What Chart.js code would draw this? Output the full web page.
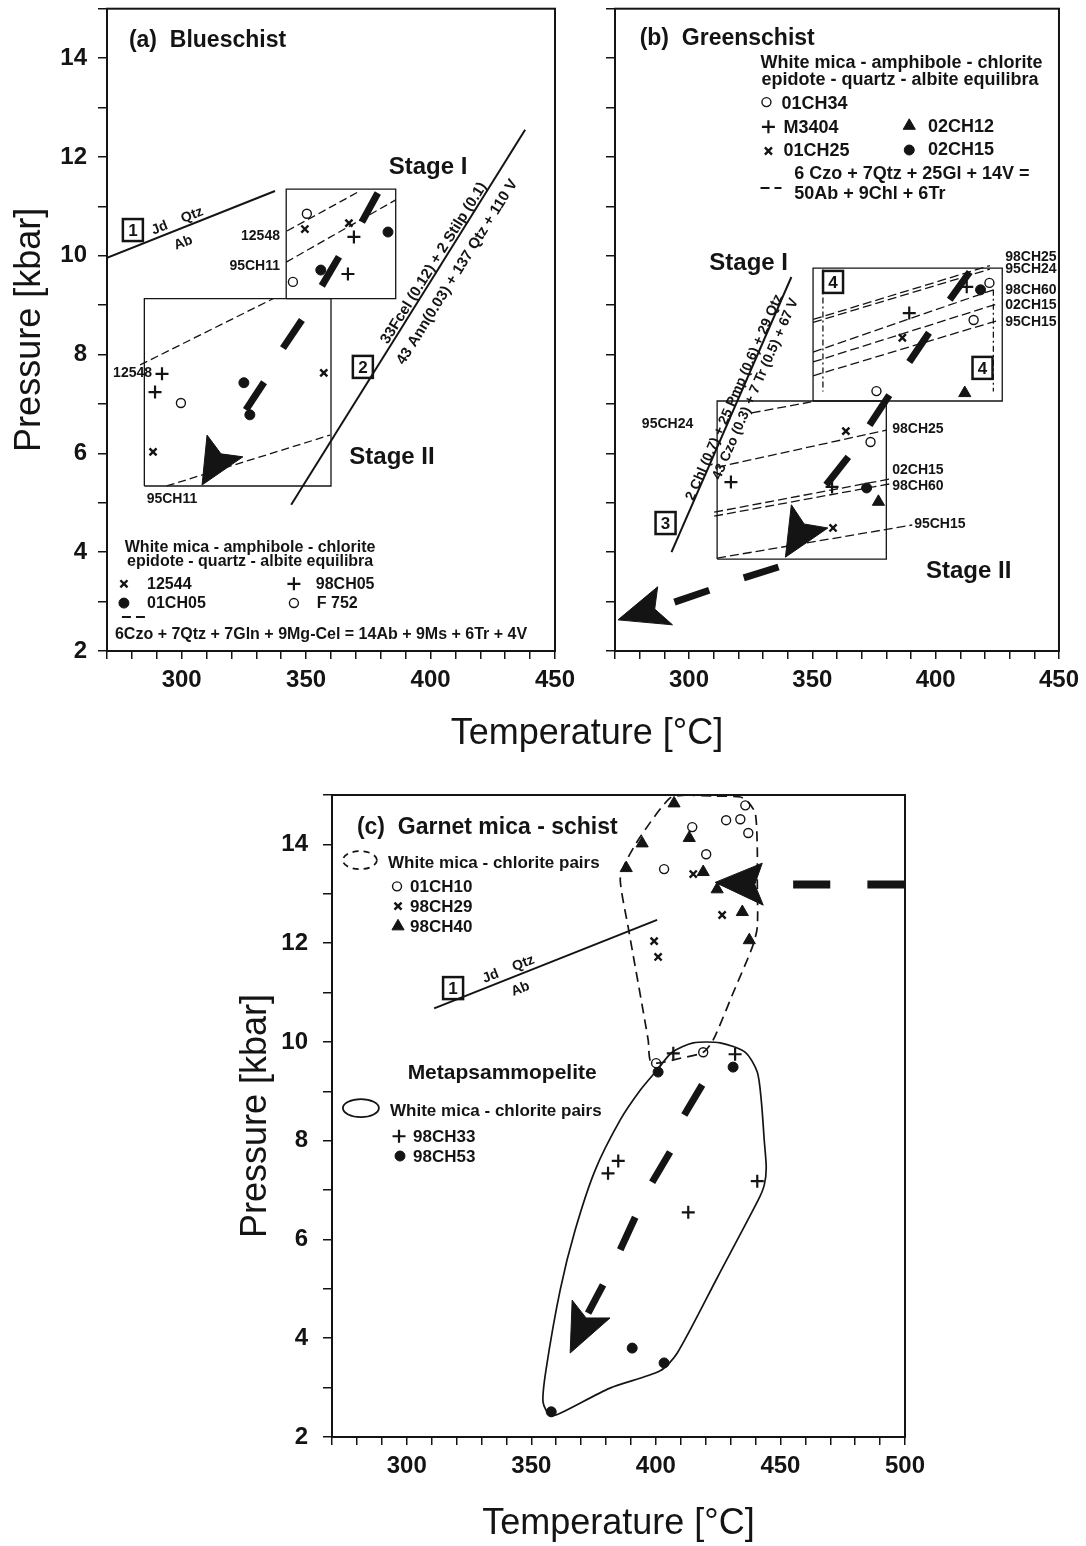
<!DOCTYPE html>
<html>
<head>
<meta charset="utf-8">
<title>P-T paths</title>
<script src="https://cdn.jsdelivr.net/npm/chart.js@4.4.1/dist/chart.umd.min.js"></script>
<style>
  body { margin: 0; background: #fff; width: 1086px; height: 1546px; position: relative; overflow: hidden; }
  canvas { position: absolute; }
  #tempTitle { position: absolute; left: 387px; width: 400px; top: 712px; text-align: center;
               font: 36px 'Liberation Sans', Arial, sans-serif; line-height: 40px; color: #141414; }
</style>
</head>
<body>
<canvas id="chartA" width="590" height="720" style="left:0;top:0"></canvas>
<canvas id="chartB" width="501" height="720" style="left:585px;top:0"></canvas>
<div id="tempTitle">Temperature [°C]</div>
<canvas id="chartC" width="1086" height="786" style="left:0;top:760px"></canvas>
<script>
// ---------- panel (a) blueschist : [T °C, P kbar] ----------
const aJdLine = [[270, 9.96], [337.5, 11.31]];
const aReact2 = [[344, 4.96], [438, 12.55]];
const aBoxUp = [[342, 9.13], [342, 11.35], [386, 11.35], [386, 9.13], [342, 9.13]];
const aBoxLo = [[285, 5.34], [285, 9.13], [360, 9.13], [360, 5.34], [285, 5.34]];
const aIsoUp12548 = [[342.3, 10.5], [371.6, 11.31]];
const aIsoUp95CH11 = [[342, 9.87], [386, 11.13]];
const aIsoLo12548 = [[283.3, 7.79], [336.7, 9.13]];
const aIsoLo95CH11 = [[294, 5.34], [359.6, 6.37]];
const a12544 = [[349.5, 10.54], [367.2, 10.66], [357.1, 7.63], [288.5, 6.03]];
const a98CH05 = [[369.2, 10.38], [366.8, 9.63], [292.1, 7.61], [289.3, 7.24]];
const a01CH05 = [[382.9, 10.48], [355.9, 9.71], [325, 7.43], [327.4, 6.78]];
const aF752 = [[350.3, 10.85], [344.7, 9.47], [299.7, 7.02]];
const aPath = [
  [[372.4, 10.68], [378.8, 11.27]], [[356.3, 9.39], [363.2, 9.98]],
  [[340.7, 8.13], [348.3, 8.70]], [[325.8, 6.88], [333.1, 7.44]]
];
const aHead = [[310.2, 6.37], [315.8, 5.99], [324.6, 5.93], [308.2, 5.36], [310.2, 6.37]];
const aKeyCross = [[276.8, 3.36]], aKeyPlus = [[345.1, 3.36]];
const aKeyDot = [[276.8, 2.97]], aKeyOpen = [[345.1, 2.97]];
const aKeyDash = [[276, 2.69], [285.3, 2.69]];

const aTitle = [['(a)  Blueschist', 278.8, 14.37]];
const aStages = [['Stage I', 399, 11.8], ['Stage II', 384.5, 5.93]];
const aSampRight = [['12548', 339.5, 10.42], ['95CH11', 339.5, 9.81], ['12548', 288.1, 7.65]];
const aSampCenter = [['95CH11', 296.1, 5.10]];
const aJdText = [['Jd    Qtz', 298.1, 10.72], ['Ab', 300.5, 10.28]];
const aBoxNums = [['1', 280.4, 10.52], ['2', 372.8, 7.75]];
const aReactText = [['33Fcel (0.12) + 2 Stilp (0.1)', 401, 9.86], ['43 Ann(0.03) + 137 Qtz + 110 V', 410.4, 9.68]];
const aKeyHead = [['White mica - amphibole - chlorite', 327.5, 4.11], ['epidote - quartz - albite equilibra', 327.5, 3.82]];
const aKeyText = [['12544', 286.1, 3.36], ['98CH05', 353.9, 3.36], ['01CH05', 286.1, 2.97], ['F 752', 354.3, 2.97],
                  ['6Czo + 7Qtz + 7Gln + 9Mg-Cel = 14Ab + 9Ms + 6Tr + 4V', 273.2, 2.36]];

// ---------- panel (b) greenschist ----------
const bReact3 = [[292.9, 4.0], [341.5, 9.57]];
const bBoxUp = [[350.3, 7.06], [350.3, 9.75], [427, 9.75], [427, 7.06], [350.3, 7.06]];
const bBoxLo = [[311.4, 3.86], [311.4, 7.06], [380, 7.06], [380, 3.86], [311.4, 3.86]];
const bDashDotL = [[354.3, 9.72], [354.3, 7.25]];
const bDashDotR = [[423.4, 9.31], [423.4, 7.25]];
const bIsoUp = [
  [[350.3, 8.71], [422, 9.80]], [[350.3, 8.65], [422, 9.73]],
  [[350.3, 8.05], [424.6, 9.33]], [[350.3, 7.85], [424.6, 9.02]], [[350.3, 7.57], [424.6, 8.68]]
];
const bIsoLo = [
  [[325.4, 6.82], [349.5, 7.04]], [[311.4, 5.72], [380, 6.47]],
  [[310.2, 4.81], [381.2, 5.48]], [[310.2, 4.73], [381.2, 5.38]], [[311.4, 3.88], [390.5, 4.55]]
];
const b01CH34 = [[415.4, 8.70], [421.8, 9.45], [376, 7.26], [373.6, 6.23]];
const bM3404 = [[389.3, 8.84], [412.6, 9.37], [317, 5.42], [358, 5.32]];
const b02CH12 = [[411.8, 7.22], [376.8, 5.02]];
const b01CH25 = [[386.5, 8.34], [363.6, 6.45], [358.4, 4.49]];
const b02CH15 = [[418.2, 9.31], [372, 5.30]];
const bPath = [
  [[405.7, 9.11], [413.8, 9.67]], [[389.3, 7.85], [397.3, 8.44]], [[373.2, 6.57], [381.2, 7.18]],
  [[355.6, 5.36], [364.6, 5.93]], [[322.2, 3.48], [336.3, 3.70]], [[294.1, 2.99], [308.2, 3.23]]
];
const bHeadBox = [[341.5, 4.96], [346.7, 4.57], [356.3, 4.49], [339.1, 3.90], [341.5, 4.96]];
const bHeadEnd = [[271.2, 2.63], [287.3, 3.30], [286.1, 2.85], [293.3, 2.53], [271.2, 2.63]];
const bKeyOpen = [[331.4, 13.11]], bKeyPlus = [[332.2, 12.61]], bKeyTri = [[389.3, 12.63]];
const bKeyCross = [[332.2, 12.12]], bKeyDot = [[389.3, 12.14]];
const bKeyDash = [[329, 11.37], [337.5, 11.37]];

const bTitle = [['(b)  Greenschist', 280, 14.41]];
const bStages = [['Stage I', 324.2, 9.87], ['Stage II', 413.4, 3.64]];
const bSampLeft = [['98CH25', 428.2, 10.0], ['95CH24', 428.2, 9.75], ['98CH60', 428.2, 9.33], ['02CH15', 428.2, 9.02],
                   ['95CH15', 428.2, 8.68], ['98CH25', 382.4, 6.51], ['02CH15', 382.4, 5.68], ['98CH60', 382.4, 5.36],
                   ['95CH15', 391.3, 4.59]];
const bSampCenter = [['95CH24', 291.3, 6.62]];
const bBoxNums = [['3', 290.5, 4.59], ['4', 358.4, 9.47], ['4', 419, 7.73]];
const bReactText = [['2 Chl (0.7) + 25 Pmp (0.6) + 29 Qtz', 318, 7.14], ['43 Czo (0.3) + 7 Tr (0.5) + 67 V', 326.6, 7.31]];
const bKeyHead = [['White mica - amphibole - chlorite', 329, 13.92], ['epidote - quartz - albite equilibra', 329.4, 13.58]];
const bKeyText = [['01CH34', 337.5, 13.09], ['M3404', 338.3, 12.61], ['02CH12', 396.9, 12.63], ['01CH25', 338.3, 12.14],
                  ['02CH15', 396.9, 12.16], ['6 Czo + 7Qtz + 25Gl + 14V =', 342.7, 11.68], ['50Ab + 9Chl + 6Tr', 342.7, 11.27]];

// ---------- panel (c) garnet mica-schist / metapsammopelite ----------
const cJdLine = [[311, 10.68], [400.5, 12.47]];
const cPelite = [
  [424.9, 5.25], [408.6, 3.70], [401.7, 3.34], [381.6, 2.99], [362, 2.49], [357.6, 2.43], [354.7, 2.71],
  [355.9, 3.36], [361.6, 4.98], [367.6, 6.19], [375.6, 7.40], [385.7, 8.42], [393.7, 9.02], [400.5, 9.43],
  [406.5, 9.79], [415, 9.98], [425.8, 9.98], [435.9, 9.79], [440.7, 9.39], [442.3, 8.82], [443.5, 8.01],
  [444.3, 7.45], [443.5, 7.10], [441.1, 6.80], [424.9, 5.25]
];
const cSchist = [
  [412.6, 15.0], [405.7, 14.94], [393.7, 14.15], [387.7, 13.62], [385.7, 13.28], [388.9, 12.32], [396.9, 10.04],
  [397.7, 9.63], [400.5, 9.57], [409.8, 9.67], [419, 9.79], [423, 10.04], [431, 10.99], [438.7, 11.92],
  [440.7, 12.32], [440.7, 13.28], [440.7, 13.94], [439.9, 14.63], [437.1, 14.85], [433.9, 14.96], [423, 14.98], [412.6, 15.0]
];
const c01CH10 = [[435.9, 14.79], [428.2, 14.49], [433.9, 14.51], [437.1, 14.23], [414.6, 14.35], [420.2, 13.80],
                 [403.3, 13.50], [400.1, 9.57], [419, 9.79]];
const c98CH29 = [[415, 13.40], [426.6, 12.57], [399.3, 12.04], [400.9, 11.72]];
const c98CH40 = [[407.3, 14.83], [394.5, 14.02], [388.1, 13.52], [413.4, 14.13], [419, 13.44], [424.6, 13.09],
                 [434.7, 12.63], [437.5, 12.06]];
const c98CH33 = [[407, 9.77], [431.8, 9.75], [380.8, 7.34], [384.9, 7.59], [440.7, 7.18], [413, 6.55]];
const c98CH53 = [[400.9, 9.39], [431, 9.49], [390.5, 3.80], [403.3, 3.50], [358, 2.51]];
const cPath = [[[418.6, 9.13], [411.4, 8.52]], [[405.7, 7.77], [398.5, 7.16]], [[391.7, 6.45], [385.7, 5.79]],
               [[378.8, 5.08], [372.8, 4.51]]];
const cHeadLow = [[366.4, 4.77], [372, 4.41], [381.6, 4.41], [365.6, 3.70], [366.4, 4.77]];
const cPathTop = [[[455.1, 13.19], [470, 13.19]], [[484.9, 13.19], [500, 13.19]]];
const cHeadTop = [[423.8, 13.23], [442.7, 13.62], [439.7, 13.19], [443.1, 12.77], [423.8, 13.23]];
const cKeyOpen = [[296.1, 13.15]], cKeyCross = [[296.5, 12.75]], cKeyTri = [[296.5, 12.34]];
const cKeyPlus = [[296.9, 8.09]], cKeyDot = [[297.3, 7.69]];

const cTitle = [['(c)  Garnet mica - schist', 280, 14.35]];
const cPelTitle = [['Metapsammopelite', 338.3, 9.39]];
const cKeyText = [['White mica - chlorite pairs', 292.5, 13.64], ['01CH10', 301.3, 13.15], ['98CH29', 301.3, 12.75],
                  ['98CH40', 301.3, 12.34], ['White mica - chlorite pairs', 293.3, 8.62], ['98CH33', 302.5, 8.09],
                  ['98CH53', 302.5, 7.69]];
const cKeyDashedLoop = [['', 281.2, 13.68]];
const cKeySolidLoop = [['', 281.6, 8.66]];
const cBoxNums = [['1', 318.6, 11.09]];
const cJdText = [['Jd    Qtz', 340.7, 11.49], ['Ab', 345.5, 11.09]];

// ---------- helpers ----------
const FAM = "'Liberation Sans', Arial, Helvetica, sans-serif";
const INK = '#141414';
const font = (size, weight = 'bold') => `${weight} ${size}px ${FAM}`;

const pts = a => a.map(([x, y]) => ({x, y}));
const line = (a, o = {}) => Object.assign({
  data: pts(a), showLine: true, borderColor: INK, borderWidth: 1.3,
  pointRadius: 0, pointHoverRadius: 0, fill: false, tension: 0
}, o);
const dashed = (a, o = {}) => line(a, Object.assign({borderDash: [8, 4]}, o));
const thick = segs => segs.map(s => line(s, {borderWidth: 7}));
const head = a => line(a, {fill: 'shape', backgroundColor: INK, borderWidth: 1});
const MARK = {
  open: {pointStyle: 'circle', pointRadius: 4.5, pointBackgroundColor: '#fff', pointBorderWidth: 1.4},
  dot: {pointStyle: 'circle', pointRadius: 5, pointBackgroundColor: INK, pointBorderWidth: 1},
  plus: {pointStyle: 'cross', pointRadius: 6.5, pointBorderWidth: 2.2},
  cross: {pointStyle: 'crossRot', pointRadius: 5, pointBorderWidth: 2.4},
  tri: {pointStyle: 'triangle', pointRadius: 7, pointBackgroundColor: INK, pointBorderWidth: 1}
};
const marks = (a, kind) => Object.assign({data: pts(a), showLine: false, pointBorderColor: INK, pointHoverRadius: 0}, MARK[kind]);

const framePlugin = {
  id: 'frame',
  afterDraw(chart) {
    const {ctx, chartArea: c} = chart;
    ctx.save();
    ctx.strokeStyle = INK;
    ctx.lineWidth = 2;
    ctx.strokeRect(c.left, c.top, c.right - c.left, c.bottom - c.top);
    ctx.restore();
  }
};

// text annotations placed at data coordinates
function notesPlugin(groups) {
  return {
    id: 'notes',
    afterDatasetsDraw(chart) {
      const {ctx, scales: {x, y}} = chart;
      const px = v => x.getPixelForValue(v), py = v => y.getPixelForValue(v);
      for (const g of groups) {
        let rot = 0;
        if (g.along) {
          const p = g.along[0], q = g.along[g.along.length - 1];
          rot = Math.atan2(py(q[1]) - py(p[1]), px(q[0]) - px(p[0]));
        }
        for (const [txt, tx, ty] of g.items) {
          ctx.save();
          ctx.translate(px(tx), py(ty));
          ctx.rotate(rot);
          ctx.strokeStyle = INK;
          ctx.fillStyle = INK;
          if (g.loop) {
            ctx.lineWidth = 1.8;
            ctx.setLineDash(g.loop.dash || []);
            ctx.beginPath();
            ctx.ellipse(0, 0, g.loop.rx, g.loop.ry, 0, 0, Math.PI * 2);
            ctx.stroke();
          } else {
            ctx.font = g.font;
            ctx.textAlign = g.align || 'left';
            ctx.textBaseline = 'middle';
            ctx.fillText(txt, 0, 1);
            if (g.boxed) {
              ctx.lineWidth = 2.5;
              ctx.strokeRect(-10, -11, 20, 22);
            }
          }
          ctx.restore();
        }
      }
    }
  };
}

function scales(o) {
  const tickFont = {family: FAM, size: 24, weight: 'bold'};
  const titleFont = {family: FAM, size: 36, weight: 'normal', lineHeight: 1.2};
  return {
    x: {
      type: 'linear', min: 270, max: o.xMax,
      afterFit: s => { s.height = o.xH; },
      border: {color: INK, width: 2},
      grid: {drawOnChartArea: false, tickLength: 8, color: INK, lineWidth: 1.5},
      ticks: {stepSize: 10, autoSkip: false, maxRotation: 0, padding: 7, color: INK, font: tickFont,
              callback: v => (v % 50 === 0 ? v : '')},
      title: o.xTitle ? {display: true, text: o.xTitle, color: INK, font: titleFont, padding: {top: 0, bottom: 0}}
                      : {display: false}
    },
    y: {
      type: 'linear', min: 2, max: 15,
      afterFit: s => { s.width = o.yW; s.paddingTop = 0; s.paddingBottom = 0; },
      border: {color: INK, width: 2},
      grid: {drawOnChartArea: false, tickLength: 9, color: INK, lineWidth: 1.5},
      ticks: {display: o.yLabels, stepSize: 1, autoSkip: false, padding: o.yPad || 10, color: INK, font: tickFont,
              callback: v => (v % 2 === 0 ? v : '')},
      title: o.yTitle ? {display: true, text: o.yTitle, color: INK, font: titleFont, padding: {top: o.yTitlePad, bottom: 0}}
                      : {display: false}
    }
  };
}

function build(id, datasets, sc, pad, notes) {
  return new Chart(document.getElementById(id), {
    type: 'scatter',
    data: {datasets},
    options: {
      responsive: false, animation: false, devicePixelRatio: 1,
      layout: {padding: pad},
      plugins: {legend: {display: false}, tooltip: {enabled: false}},
      events: [],
      scales: sc
    },
    plugins: [framePlugin, notesPlugin(notes)]
  });
}

// ---------- panel (a) ----------
build('chartA', [
  line(aJdLine, {borderWidth: 2}),
  line(aReact2, {borderWidth: 2}),
  line(aBoxUp), line(aBoxLo),
  dashed(aIsoUp12548), dashed(aIsoUp95CH11), dashed(aIsoLo12548), dashed(aIsoLo95CH11),
  ...thick(aPath), head(aHead),
  dashed(aKeyDash, {borderWidth: 2, borderDash: [9, 5]}),
  marks(a12544, 'cross'), marks(a98CH05, 'plus'), marks(a01CH05, 'dot'), marks(aF752, 'open'),
  marks(aKeyCross, 'cross'), marks(aKeyPlus, 'plus'), marks(aKeyDot, 'dot'), marks(aKeyOpen, 'open')
], scales({xMax: 450, xH: 69, yW: 107, yLabels: true, yPad: 11, yTitle: 'Pressure [kbar]', yTitlePad: 8}),
{top: 8, right: 35, left: 0, bottom: 0}, [
  {items: aTitle, font: font(23)},
  {items: aStages, font: font(24), align: 'center'},
  {items: aSampRight, font: font(14), align: 'right'},
  {items: aSampCenter, font: font(14), align: 'center'},
  {items: aJdText, font: font(14), align: 'center', along: aJdLine},
  {items: aBoxNums, font: font(17), align: 'center', boxed: true},
  {items: aReactText, font: font(15), align: 'center', along: aReact2},
  {items: aKeyHead, font: font(16), align: 'center'},
  {items: aKeyText, font: font(16)}
]);

// ---------- panel (b) ----------
build('chartB', [
  line(bReact3, {borderWidth: 2}),
  line(bBoxUp), line(bBoxLo),
  dashed(bDashDotL, {borderDash: [6, 3, 2, 3]}), dashed(bDashDotR, {borderDash: [6, 3, 2, 3]}),
  ...bIsoUp.map(s => dashed(s, {borderDash: [9, 4]})),
  ...bIsoLo.map(s => dashed(s, {borderDash: [9, 4]})),
  ...thick(bPath), head(bHeadBox), head(bHeadEnd),
  dashed(bKeyDash, {borderWidth: 2, borderDash: [9, 5]}),
  marks(b01CH34, 'open'), marks(bM3404, 'plus'), marks(b02CH12, 'tri'), marks(b01CH25, 'cross'), marks(b02CH15, 'dot'),
  marks(bKeyOpen, 'open'), marks(bKeyPlus, 'plus'), marks(bKeyTri, 'tri'), marks(bKeyCross, 'cross'), marks(bKeyDot, 'dot')
], scales({xMax: 450, xH: 69, yW: 30, yLabels: false}),
{top: 8, right: 23, left: 0, bottom: 0}, [
  {items: bTitle, font: font(23)},
  {items: bStages, font: font(24), align: 'center'},
  {items: bSampLeft, font: font(14)},
  {items: bSampCenter, font: font(14), align: 'center'},
  {items: bBoxNums, font: font(17), align: 'center', boxed: true},
  {items: bReactText, font: font(14), align: 'center', along: bReact3},
  {items: bKeyHead, font: font(18)},
  {items: bKeyText, font: font(18)}
]);

// ---------- panel (c) ----------
build('chartC', [
  line(cJdLine, {borderWidth: 2}),
  line(cPelite, {borderWidth: 1.7, tension: 0.25}),
  dashed(cSchist, {borderWidth: 1.7, borderDash: [10, 6], tension: 0.25}),
  ...thick(cPath), head(cHeadLow),
  ...cPathTop.map(s => line(s, {borderWidth: 8})), head(cHeadTop),
  marks(c01CH10, 'open'), marks(c98CH29, 'cross'), marks(c98CH40, 'tri'), marks(c98CH33, 'plus'), marks(c98CH53, 'dot'),
  marks(cKeyOpen, 'open'), marks(cKeyCross, 'cross'), marks(cKeyTri, 'tri'), marks(cKeyPlus, 'plus'), marks(cKeyDot, 'dot')
], scales({xMax: 500, xH: 109, yW: 332, yLabels: true, yPad: 15, xTitle: 'Temperature [°C]',
           yTitle: 'Pressure [kbar]', yTitlePad: 234}),
{top: 35, right: 181, left: 0, bottom: 0}, [
  {items: cTitle, font: font(23)},
  {items: cPelTitle, font: font(21), align: 'center'},
  {items: cKeyText, font: font(17)},
  {items: cKeyDashedLoop, loop: {rx: 17, ry: 9, dash: [6, 5]}},
  {items: cKeySolidLoop, loop: {rx: 18, ry: 9}},
  {items: cBoxNums, font: font(17), align: 'center', boxed: true},
  {items: cJdText, font: font(14), align: 'center', along: cJdLine}
]);
</script>
</body>
</html>
